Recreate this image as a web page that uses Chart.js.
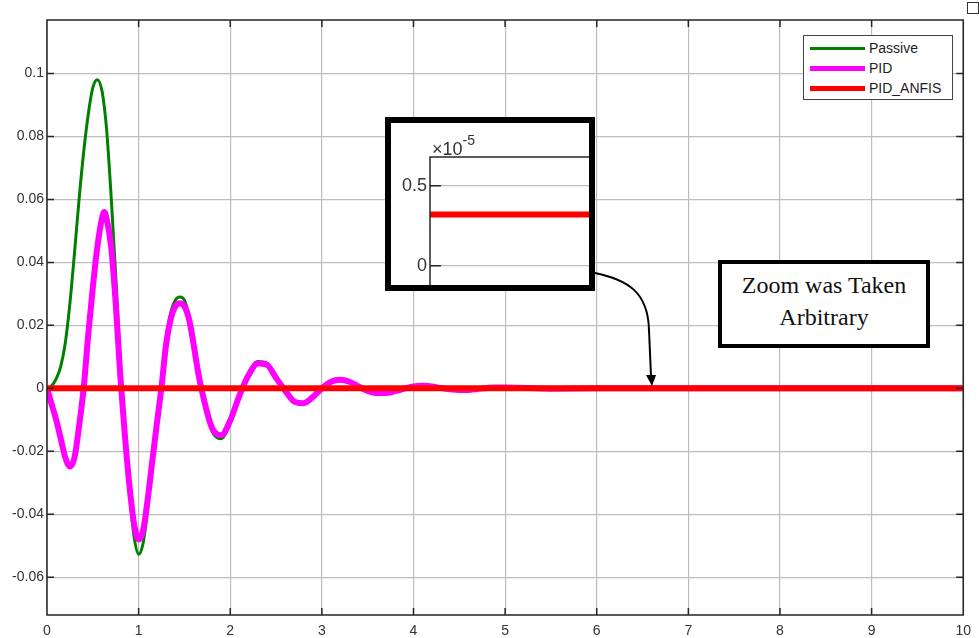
<!DOCTYPE html>
<html>
<head>
<meta charset="utf-8">
<script src="https://cdn.jsdelivr.net/npm/chart.js@4.4.1/dist/chart.umd.min.js"></script>
<style>
    html, body { margin: 0; padding: 0; background: #fff; }
    #wrap { position: relative; width: 979px; height: 638px; overflow: hidden; }
    #mainChart { position: absolute; left: 0; top: 0; }
    .legend { position: absolute; left: 803px; top: 35px; width: 148px; height: 63px; border: 1px solid #444; background: #fff; font: 14px "Liberation Sans", Arial, sans-serif; color: #222; }
    .legend .row { position: absolute; left: 6px; height: 20px; display: flex; align-items: center; }
    .legend .swatch { width: 55px; margin-right: 4px; }
    .inset { position: absolute; left: 385px; top: 117px; width: 198px; height: 162px; border: 6px solid #000; background: #fff; }
    #insetChart { position: absolute; left: 0; top: 0; }
    .insetExp { position: absolute; left: 41px; top: 12px; font: 18px "Liberation Sans", Arial, sans-serif; color: #333; white-space: nowrap; }
    .insetExp sup { font-size: 14px; position: relative; top: -3px; }
    .note { position: absolute; left: 718px; top: 260px; width: 204px; height: 75px; border: 4px solid #000; background: #fff; font: 24px "Liberation Serif", "Times New Roman", serif; color: #111; text-align: center; line-height: 32px; padding-top: 5px; }
    .corner { position: absolute; left: 967px; top: 2px; width: 10px; height: 10px; border: 1px solid #333; background: #fff; }
    svg.arrow { position: absolute; left: 0; top: 0; }
</style>
</head>
<body>
<div id="wrap">
    <canvas id="mainChart" width="979" height="638"></canvas>
    <div class="corner"></div>

    <div class="legend">
        <div class="row" style="top: 2px;"><div class="swatch" style="height:3px;background:#008000;"></div>Passive</div>
        <div class="row" style="top: 22px;"><div class="swatch" style="height:5px;background:#ff00ff;"></div>PID</div>
        <div class="row" style="top: 42px;"><div class="swatch" style="height:5px;background:#ff0000;"></div>PID_ANFIS</div>
    </div>

    <div class="inset">
        <canvas id="insetChart" width="198" height="162"></canvas>
        <div class="insetExp">&times;10<sup>-5</sup></div>
    </div>

    <svg class="arrow" width="979" height="638">
        <path d="M595 273 C 628 280, 648 292, 649 330 L 651 376" fill="none" stroke="#000" stroke-width="2"/>
        <polygon points="646,375 656,375 652,386" fill="#000"/>
    </svg>

    <div class="note">Zoom was Taken<br>Arbitrary</div>
</div>

<script>
// time axis (s)
const time = [0, 0.05, 0.1, 0.15, 0.2, 0.25, 0.3, 0.35, 0.4, 0.45, 0.5, 0.55, 0.6, 0.625, 0.65, 0.7, 0.75, 0.8, 0.85, 0.9, 0.95,
    1.0, 1.05, 1.1, 1.15, 1.2, 1.25, 1.3, 1.35, 1.4, 1.45, 1.5, 1.55, 1.6, 1.65, 1.7,
    1.8, 1.9, 2.0, 2.1, 2.2, 2.3, 2.4, 2.5, 2.6, 2.7, 2.8, 2.9, 3.0, 3.1, 3.2, 3.3, 3.4, 3.5, 3.6, 3.7, 3.8, 3.9,
    4.0, 4.1, 4.2, 4.3, 4.4, 4.5, 4.6, 4.7, 4.8, 4.9, 5.0, 5.5, 6, 7, 8, 9, 10];

const passive = [0, 0.0008, 0.003, 0.007, 0.0145, 0.027, 0.043, 0.060, 0.075, 0.087, 0.0955, 0.098, 0.0945, 0.0895, 0.0825, 0.061, 0.036,
    0.008, -0.016, -0.033, -0.047, -0.0527, -0.049, -0.038, -0.023, -0.010, 0.002, 0.016, 0.024, 0.028, 0.029, 0.028, 0.023, 0.015, 0.006, -0.002,
    -0.0135, -0.016, -0.011, -0.0025, 0.0045, 0.0085, 0.008, 0.0035, -0.0008, -0.0045, -0.005, -0.003, 0.0, 0.0022, 0.0029, 0.0022, 0.0006,
    -0.0009, -0.0016, -0.0016, -0.001, -0.0001, 0.0006, 0.0008, 0.0006, 0.0001, -0.0003, -0.0005, -0.0005, -0.0002, 0.0001, 0.0003, 0.0003,
    -0.0001, 0, 0, 0, 0, 0];

const pid = [0, -0.005, -0.010, -0.016, -0.022, -0.0248, -0.022, -0.012, 0.0, 0.017, 0.032, 0.045, 0.054, 0.056, 0.054, 0.045, 0.027,
    0.004, -0.015, -0.031, -0.043, -0.048, -0.045, -0.035, -0.023, -0.011, 0.0005, 0.014, 0.022, 0.026, 0.027, 0.026, 0.022, 0.014, 0.005, -0.002,
    -0.0125, -0.0149, -0.0102, -0.0023, 0.0042, 0.0079, 0.0075, 0.0033, -0.0007, -0.0042, -0.0047, -0.0028, 0.0, 0.0021, 0.0027, 0.0021, 0.0006,
    -0.0008, -0.0015, -0.0015, -0.0009, -0.0001, 0.0006, 0.0008, 0.0006, 0.0001, -0.0003, -0.0005, -0.0005, -0.0002, 0.0001, 0.0003, 0.0003,
    -0.0001, 0, 0, 0, 0, 0];

const anfisTime = [0, 10];
const anfis = [0, 0];

const yTicks = [-0.06, -0.04, -0.02, 0, 0.02, 0.04, 0.06, 0.08, 0.1];
const xTicks = [0, 1, 2, 3, 4, 5, 6, 7, 8, 9, 10];

// zoomed view of PID_ANFIS
const insetTime = [0, 1];
const insetAnfis = [0.32e-5, 0.32e-5];
const insetTicks = [0, 0.5e-5];

const FONT = { family: "'Liberation Sans', Arial, sans-serif", size: 14 };

// axes frame + matlab style inward tick marks
const frameTicks = {
    id: 'frameTicks',
    afterDatasetsDraw(chart, args, opts) {
        const { ctx, chartArea: a, scales } = chart;
        const L = opts.len;
        ctx.save();
        ctx.strokeStyle = opts.color;
        ctx.lineWidth = opts.width;
        ctx.beginPath();
        if (opts.full) {
            ctx.rect(a.left, a.top, a.right - a.left, a.bottom - a.top);
            scales.x.ticks.forEach(t => {
                const px = scales.x.getPixelForValue(t.value);
                ctx.moveTo(px, a.bottom); ctx.lineTo(px, a.bottom - L);
                ctx.moveTo(px, a.top); ctx.lineTo(px, a.top + L);
            });
        } else {
            ctx.moveTo(a.left, a.bottom); ctx.lineTo(a.left, a.top); ctx.lineTo(a.right, a.top);
        }
        scales.y.ticks.forEach(t => {
            const py = scales.y.getPixelForValue(t.value);
            ctx.moveTo(a.left, py); ctx.lineTo(a.left + L, py);
            if (opts.full) { ctx.moveTo(a.right, py); ctx.lineTo(a.right - L, py); }
        });
        ctx.stroke();
        ctx.restore();
    }
};

const toPoints = (xs, ys) => xs.map((x, i) => ({ x: x, y: ys[i] }));

new Chart(document.getElementById('mainChart'), {
    type: 'line',
    data: {
        datasets: [
            { label: 'PID_ANFIS', data: toPoints(anfisTime, anfis), borderColor: '#ff0000', borderWidth: 6, order: 0 },
            { label: 'PID', data: toPoints(time, pid), borderColor: '#ff00ff', borderWidth: 6, order: 1 },
            { label: 'Passive', data: toPoints(time, passive), borderColor: '#008000', borderWidth: 3, order: 2 }
        ]
    },
    options: {
        responsive: false, animation: false,
        layout: { padding: { left: 0, top: 20, right: 9, bottom: 0 } },
        elements: { point: { radius: 0 }, line: { cubicInterpolationMode: 'monotone', borderCapStyle: 'butt' } },
        plugins: {
            legend: { display: false }, tooltip: { enabled: false },
            frameTicks: { full: true, len: 7, color: '#262626', width: 1.5 }
        },
        scales: {
            x: {
                type: 'linear', min: 0, max: 10,
                afterBuildTicks: s => { s.ticks = xTicks.map(v => ({ value: v })); },
                afterFit: s => { s.height = 23; },
                grid: { color: '#bdbdbd', lineWidth: 1.2, drawTicks: false },
                border: { display: false },
                ticks: { font: FONT, color: '#333', padding: 8, maxRotation: 0 }
            },
            y: {
                min: -0.072, max: 0.117,
                afterBuildTicks: s => { s.ticks = yTicks.map(v => ({ value: v })); },
                afterFit: s => { s.width = 47; },
                grid: { color: '#bdbdbd', lineWidth: 1.2, drawTicks: false },
                border: { display: false },
                ticks: { font: FONT, color: '#333', padding: 3, callback: v => String(v) }
            }
        }
    },
    plugins: [frameTicks]
});

new Chart(document.getElementById('insetChart'), {
    type: 'line',
    data: {
        datasets: [
            { label: 'PID_ANFIS', data: toPoints(insetTime, insetAnfis), borderColor: '#ff0000', borderWidth: 6 }
        ]
    },
    options: {
        responsive: false, animation: false,
        layout: { padding: { left: 0, top: 34, right: 0, bottom: 0 } },
        elements: { point: { radius: 0 } },
        plugins: {
            legend: { display: false }, tooltip: { enabled: false },
            frameTicks: { full: false, len: 11, color: '#262626', width: 1.5 }
        },
        scales: {
            x: { type: 'linear', min: 0, max: 1, display: false },
            y: {
                min: -0.121e-5, max: 0.679e-5,
                afterBuildTicks: s => { s.ticks = insetTicks.map(v => ({ value: v })); },
                afterFit: s => { s.width = 39; s.paddingTop = 0; s.paddingBottom = 0; },
                grid: { color: '#bdbdbd', lineWidth: 1.2, drawTicks: false },
                border: { display: false },
                ticks: { font: { family: FONT.family, size: 18 }, color: '#333', padding: 3, callback: v => String(+(v / 1e-5).toFixed(2)) }
            }
        }
    },
    plugins: [frameTicks]
});
</script>
</body>
</html>
